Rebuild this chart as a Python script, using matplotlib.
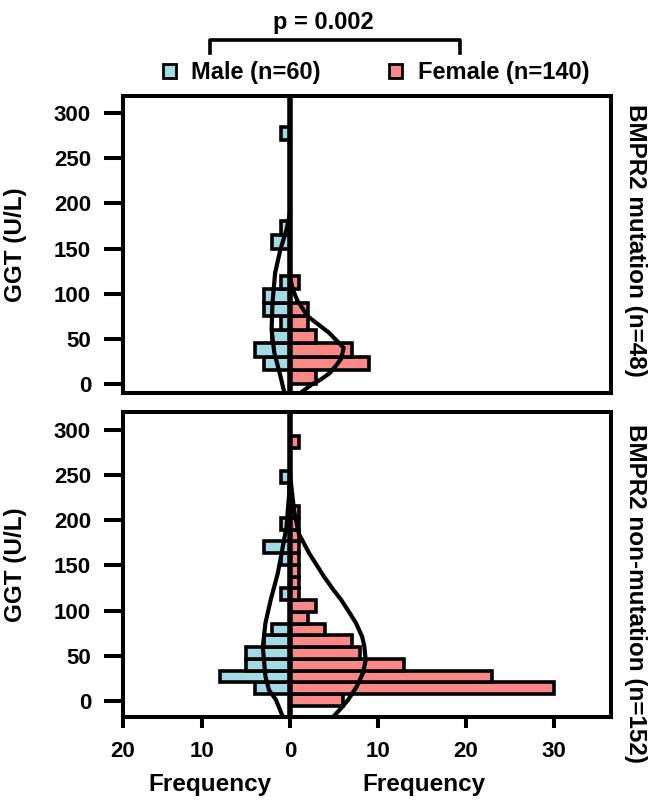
import matplotlib
matplotlib.use("Agg")
import matplotlib.pyplot as plt
from matplotlib.lines import Line2D
from matplotlib.patches import Patch

plt.rcParams.update({
    "font.family": ["Liberation Sans", "DejaVu Sans"],
    "font.weight": "bold",
    "axes.linewidth": 2.9,
})

MALE_COLOR = "#A3DBE4"
FEMALE_COLOR = "#F98886"

yticks = [0, 50, 100, 150, 200, 250, 300]
xtick_pos = [-19, -10, 0, 10, 20, 30]
xtick_labels = ["20", "10", "0", "10", "20", "30"]

# BMPR2 mutation (n=48): bins of 15 U/L
mut_bin_width = 15
mut_bins = [7.5, 22.5, 37.5, 52.5, 67.5, 82.5, 97.5, 112.5, 127.5, 142.5,
            157.5, 172.5, 187.5, 202.5, 217.5, 232.5, 247.5, 262.5, 277.5, 292.5]
mut_male = [0, 3, 4, 2, 1, 3, 3, 1, 0, 0, 2, 1, 0, 0, 0, 0, 0, 0, 1, 0]
mut_female = [3, 9, 7, 3, 2, 2, 0, 1, 0, 0, 0, 0, 0, 0, 0, 0, 0, 0, 0, 0]

# fitted curves (GGT value, frequency)
mut_male_curve_y = [190, 171, 149, 123, 90, 60, 35, 9, -12]
mut_male_curve_x = [0.0, 0.4, 1.1, 1.7, 2.0, 2.1, 1.8, 1.1, 0.6]
mut_female_curve_y = [118, 105, 93, 75, 57, 40, 28, 20, 12, 5, -1, -12]
mut_female_curve_x = [0.0, 0.3, 0.8, 2.0, 4.4, 6.1, 5.8, 5.2, 4.5, 3.5, 2.4, 0.9]

# BMPR2 non-mutation (n=152): bins of 13 U/L
nonmut_bin_width = 13
nonmut_bins = [1, 14, 27, 40, 53, 66, 79, 92, 105, 118, 131, 144, 157, 170,
               183, 196, 209, 222, 235, 248, 261, 274, 287]
nonmut_male = [0, 4, 8, 5, 5, 3, 2, 0, 0, 1, 0, 0, 1, 3, 0, 1, 0, 0, 0, 1, 0, 0, 0]
nonmut_female = [6, 30, 23, 13, 8, 7, 4, 2, 3, 1, 1, 1, 1, 1, 1, 1, 1, 0, 0, 0, 0, 0, 1]

nonmut_male_curve_y = [250, 230, 193, 167, 141, 112, 86, 60, 27, 12, 1, -16]
nonmut_male_curve_x = [0.0, 0.1, 0.4, 0.9, 1.4, 2.2, 2.8, 3.1, 2.8, 2.4, 1.6, 0.9]
nonmut_female_curve_y = [250, 233, 211, 185, 163, 137, 122, 112, 97, 86, 71, 60,
                         45, 31, 16, 1, -6, -18]
nonmut_female_curve_x = [0.0, 0.2, 0.45, 1.0, 2.2, 3.9, 5.0, 5.8, 6.8, 7.5, 8.2, 8.45,
                         8.6, 8.3, 7.6, 6.6, 6.0, 4.9]


def draw_panel(ax, bins, width, male, female, male_curve, female_curve, ylim):
    # male on the left (negative side), female on the right
    for counts, sign, color in [(male, -1, MALE_COLOR), (female, 1, FEMALE_COLOR)]:
        ys = [b for b, c in zip(bins, counts) if c > 0]
        ws = [sign * c for c in counts if c > 0]
        ax.barh(ys, ws, height=width, color=color, edgecolor="black",
                linewidth=2.6, zorder=2)
    ax.plot([-v for v in male_curve[1]], male_curve[0], color="black", lw=3.0,
            solid_joinstyle="round", zorder=3)
    ax.plot(female_curve[1], female_curve[0], color="black", lw=3.0,
            solid_joinstyle="round", zorder=3)
    ax.axvline(0, color="black", lw=4.0, zorder=4)
    ax.set_xlim(-19, 36.5)
    ax.set_ylim(*ylim)
    ax.set_yticks(yticks)
    ax.tick_params(axis="y", direction="out", length=14, width=2.9, pad=9,
                   labelsize=16)


fig = plt.figure(figsize=(6.53, 8.01), dpi=100)
ax_top = fig.add_axes([123 / 653, 1 - 393 / 801, 488 / 653, 297 / 801])
ax_bot = fig.add_axes([123 / 653, 1 - 717 / 801, 488 / 653, 305 / 801])

draw_panel(ax_top, mut_bins, mut_bin_width, mut_male, mut_female,
           (mut_male_curve_y, mut_male_curve_x),
           (mut_female_curve_y, mut_female_curve_x), (-10, 319))
draw_panel(ax_bot, nonmut_bins, nonmut_bin_width, nonmut_male, nonmut_female,
           (nonmut_male_curve_y, nonmut_male_curve_x),
           (nonmut_female_curve_y, nonmut_female_curve_x), (-18, 320))

ax_top.tick_params(axis="x", bottom=False, labelbottom=False)
ax_bot.set_xticks(xtick_pos)
ax_bot.set_xticklabels(xtick_labels)
ax_bot.tick_params(axis="x", direction="out", length=8, width=2.9, pad=9,
                   labelsize=16)

# axis labels
for yc in [(96 + 393) / 2, (412 + 717) / 2]:
    fig.text(16 / 653, 1 - yc / 801, "GGT (U/L)", rotation=90, ha="center",
             va="center", fontsize=17.5)
fig.text(636 / 653, 1 - 104 / 801, "BMPR2 mutation (n=48)", rotation=270,
         ha="center", va="top", fontsize=17.5)
fig.text(636 / 653, 1 - 424 / 801, "BMPR2 non-mutation (n=152)", rotation=270,
         ha="center", va="top", fontsize=17.5)
fig.text(210 / 653, 1 - 785 / 801, "Frequency", ha="center", va="center", fontsize=17.5)
fig.text(424 / 653, 1 - 785 / 801, "Frequency", ha="center", va="center", fontsize=17.5)

# legend
handles = [Patch(facecolor=MALE_COLOR, edgecolor="black", linewidth=2.0),
           Patch(facecolor=FEMALE_COLOR, edgecolor="black", linewidth=2.0)]
fig.legend(handles, ["Male (n=60)", "Female (n=140)"], ncol=2, frameon=False,
           loc="center left", bbox_to_anchor=(163 / 653, 1 - 73 / 801),
           fontsize=17, handlelength=0.55, handleheight=0.55, handletextpad=0.65,
           columnspacing=2.9, borderpad=0, borderaxespad=0)

# significance bracket
bx0, bx1, by0, by1 = 210 / 653, 460 / 653, 1 - 40 / 801, 1 - 53 / 801
fig.add_artist(Line2D([bx0, bx0, bx1, bx1], [by1, by0, by0, by1], color="black",
                      lw=2.6, transform=fig.transFigure))
fig.text(323 / 653, 1 - 22 / 801, "p = 0.002", ha="center", va="center", fontsize=17)

fig.savefig("out.png", dpi=100)
